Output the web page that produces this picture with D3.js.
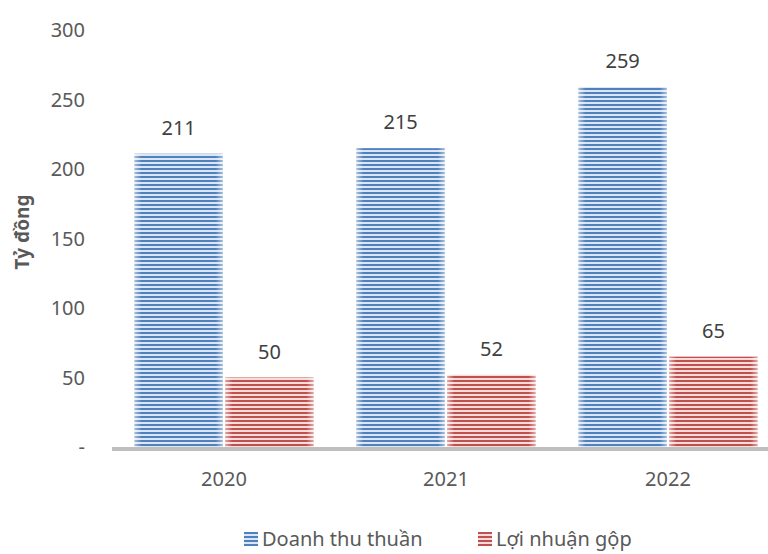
<!DOCTYPE html>
<html>
<head>
<meta charset="utf-8">
<script src="https://d3js.org/d3.v7.min.js"></script>
<style>
  body { margin: 0; background: #fff; }
  text { font-family: "Noto Sans", "Open Sans", sans-serif; fill: #595959; }
</style>
</head>
<body>
<script>
  // data
  var years = ["2020", "2021", "2022"];
  var seriesNames = ["Doanh thu thuần", "Lợi nhuận gộp"];
  var revenue = [211, 215, 259];
  var grossProfit = [50, 52, 65];
  var yTicks = [0, 50, 100, 150, 200, 250, 300];

  var width = 768, height = 554;

  var svg = d3.select("body").append("svg")
    .attr("width", width)
    .attr("height", height);

  var defs = svg.append("defs");
  var styles = [
    { id: "blue", dark: "#4f81bd", light: "#dbe5f3" },
    { id: "red", dark: "#c0504d", light: "#f4dcdb" }
  ];
  styles.forEach(function(s) {
    var p = defs.append("pattern")
      .attr("id", "stripe-" + s.id)
      .attr("patternUnits", "userSpaceOnUse")
      .attr("width", 8).attr("height", 4);
    p.append("rect").attr("width", 8).attr("height", 4).attr("fill", s.light);
    p.append("rect").attr("y", 0).attr("width", 8).attr("height", 2).attr("fill", s.dark);

    // soft edges
    var g = defs.append("linearGradient")
      .attr("id", "edge-" + s.id)
      .attr("x1", "0").attr("x2", "1").attr("y1", "0").attr("y2", "0");
    g.append("stop").attr("offset", "0").attr("stop-color", "#fff").attr("stop-opacity", 0.5);
    g.append("stop").attr("offset", "0.08").attr("stop-color", "#fff").attr("stop-opacity", 0);
    g.append("stop").attr("offset", "0.92").attr("stop-color", "#fff").attr("stop-opacity", 0);
    g.append("stop").attr("offset", "1").attr("stop-color", "#fff").attr("stop-opacity", 0.5);
  });

  var x = d3.scaleBand()
    .domain(years)
    .range([113, 779])
    .paddingInner(0)
    .paddingOuter(0);

  var x1 = d3.scaleBand()
    .domain([0, 1])
    .range([21.5, x.bandwidth() - 21.5])
    .paddingInner(0.028);

  var y = d3.scaleLinear()
    .domain([0, 300])
    .range([447, 30]);

  // y tick labels
  svg.append("g").selectAll("text")
    .data(yTicks)
    .enter().append("text")
    .attr("x", 85)
    .attr("y", function(d) { return y(d); })
    .attr("dy", "0.36em")
    .attr("text-anchor", "end")
    .style("font-size", "20px")
    .text(function(d) { return d === 0 ? "-" : d; });

  // y title
  svg.append("text")
    .attr("transform", "translate(29," + 232 + ") rotate(-90)")
    .attr("text-anchor", "middle")
    .style("font-size", "19px")
    .style("font-weight", "bold")
    .text("Tỷ đồng");

  var data = [];
  years.forEach(function(yr, i) {
    data.push({ year: yr, s: 0, v: revenue[i] });
    data.push({ year: yr, s: 1, v: grossProfit[i] });
  });

  var bars = svg.append("g").selectAll("g")
    .data(data)
    .enter().append("g");

  bars.append("rect")
    .attr("x", function(d) { return x(d.year) + x1(d.s); })
    .attr("y", function(d) { return y(d.v); })
    .attr("width", x1.bandwidth())
    .attr("height", function(d) { return y(0) - y(d.v); })
    .attr("fill", function(d) { return "url(#stripe-" + styles[d.s].id + ")"; });

  bars.append("rect")
    .attr("x", function(d) { return x(d.year) + x1(d.s); })
    .attr("y", function(d) { return y(d.v); })
    .attr("width", x1.bandwidth())
    .attr("height", function(d) { return y(0) - y(d.v); })
    .attr("fill", function(d) { return "url(#edge-" + styles[d.s].id + ")"; });

  bars.append("text")
    .attr("x", function(d) { return x(d.year) + x1(d.s) + x1.bandwidth() / 2; })
    .attr("y", function(d) { return y(d.v) - 26; })
    .attr("dy", "0.36em")
    .attr("text-anchor", "middle")
    .style("font-size", "20px")
    .style("fill", "#404040")
    .text(function(d) { return d.v; });

  // x axis line
  svg.append("line")
    .attr("x1", 112).attr("x2", width)
    .attr("y1", 449).attr("y2", 449)
    .attr("stroke", "#bfbfbf")
    .attr("stroke-width", 4);

  svg.append("g").selectAll("text")
    .data(years)
    .enter().append("text")
    .attr("x", function(d) { return x(d) + x.bandwidth() / 2; })
    .attr("y", 479)
    .attr("dy", "0.36em")
    .attr("text-anchor", "middle")
    .style("font-size", "20px")
    .text(function(d) { return d; });

  // legend
  var legendX = [244, 478];
  var legend = svg.append("g").selectAll("g")
    .data(seriesNames)
    .enter().append("g")
    .attr("transform", function(d, i) { return "translate(" + legendX[i] + ",532)"; });
  legend.append("rect")
    .attr("width", 14).attr("height", 14)
    .attr("fill", function(d, i) { return "url(#stripe-" + styles[i].id + ")"; });
  legend.append("text")
    .attr("x", 18).attr("y", 7)
    .attr("dy", "0.36em")
    .style("font-size", "20px")
    .text(function(d) { return d; });
</script>
</body>
</html>
